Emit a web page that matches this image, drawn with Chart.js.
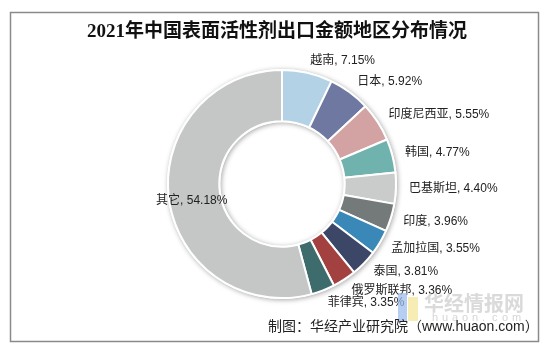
<!DOCTYPE html>
<html>
<head>
<meta charset="utf-8">
<script src="https://cdn.jsdelivr.net/npm/chart.js@4.4.1/dist/chart.umd.min.js"></script>
<style>
  html, body { margin: 0; padding: 0; background: #fff; }
  #wrap { width: 556px; height: 354px; position: relative; }
</style>
</head>
<body>
<div id="wrap"><canvas id="c" width="556" height="354"></canvas></div>
<script>
const titleText = '2021年中国表面活性剂出口金额地区分布情况';
const sourceText = '制图：华经产业研究院（www.huaon.com）';
const categories = ['越南', '日本', '印度尼西亚', '韩国', '巴基斯坦', '印度', '孟加拉国', '泰国', '俄罗斯联邦', '菲律宾', '其它'];
const shares = [7.15, 5.92, 5.55, 4.77, 4.40, 3.96, 3.55, 3.81, 3.36, 3.35, 54.18];
const sliceColors = ['#b3d2e5', '#6e78a0', '#d3a2a2', '#70b2ae', '#c9cccb', '#737a79', '#3a88b8', '#3c4666', '#a24140', '#3e6b6c', '#c4c7c6'];

const labelFont = '12px "Liberation Sans", "Noto Sans CJK SC", sans-serif';

const framePlugin = {
  id: 'frame',
  beforeDraw(chart) {
    const ctx = chart.ctx;
    ctx.save();
    ctx.fillStyle = '#ffffff';
    ctx.fillRect(0, 0, chart.width, chart.height);
    ctx.strokeStyle = '#8a8a8a';
    ctx.lineWidth = 1.5;
    ctx.strokeRect(10.5, 12.5, 528, 329);
    // title
    ctx.fillStyle = '#111111';
    ctx.font = 'bold 19px "Liberation Serif", "Noto Sans CJK SC", serif';
    ctx.textAlign = 'center';
    ctx.textBaseline = 'middle';
    ctx.fillText(titleText, 277, 32);
    ctx.restore();
  }
};

const shadowPlugin = {
  id: 'ringShadow',
  beforeDatasetsDraw(chart) {
    const arc = chart.getDatasetMeta(0).data[0];
    if (!arc) return;
    const p = arc.getProps(['x', 'y', 'outerRadius', 'innerRadius'], true);
    const ctx = chart.ctx;
    ctx.save();
    ctx.shadowColor = 'rgba(0,0,0,0.35)';
    ctx.shadowBlur = 5;
    ctx.shadowOffsetX = 1;
    ctx.shadowOffsetY = 1;
    ctx.fillStyle = '#ffffff';
    ctx.beginPath();
    ctx.arc(p.x, p.y, p.outerRadius + 1, 0, Math.PI * 2, false);
    ctx.arc(p.x, p.y, p.innerRadius - 1, 0, Math.PI * 2, true);
    ctx.closePath();
    ctx.fill();
    ctx.restore();
  }
};

const labelPlugin = {
  id: 'sliceLabels',
  afterDatasetsDraw(chart) {
    const ctx = chart.ctx;
    const meta = chart.getDatasetMeta(0);
    ctx.save();
    ctx.font = labelFont;
    ctx.fillStyle = '#222222';
    ctx.textAlign = 'left';
    ctx.textBaseline = 'middle';
    meta.data.forEach((arc, i) => {
      const p = arc.getProps(['x', 'y', 'startAngle', 'endAngle', 'outerRadius'], true);
      const mid = (p.startAngle + p.endAngle) / 2;
      const r = p.outerRadius + 13;
      const px = p.x + Math.cos(mid) * r;
      const py = p.y + Math.sin(mid) * r;
      ctx.fillText(categories[i] + ', ' + shares[i].toFixed(2) + '%', px, py);
    });
    ctx.restore();
  },
  afterDraw(chart) {
    const ctx = chart.ctx;
    ctx.save();
    // watermark
    ctx.fillStyle = 'rgba(150,185,235,0.7)';
    ctx.fillRect(398, 293, 9, 29);
    ctx.fillStyle = 'rgba(245,228,150,0.7)';
    ctx.fillRect(408, 297, 10, 24);
    ctx.fillStyle = 'rgba(205,205,205,0.75)';
    ctx.font = 'bold 20px "Noto Sans CJK SC", sans-serif';
    ctx.textAlign = 'left';
    ctx.textBaseline = 'middle';
    ctx.fillText('华经情报网', 424, 303);
    ctx.font = '11px "Liberation Sans", sans-serif';
    ctx.fillStyle = 'rgba(210,210,210,0.9)';
    const wm = 'huaon.com';
    for (let k = 0; k < wm.length; k++) ctx.fillText(wm[k], 432 + k * 10, 318);
    // source
    ctx.fillStyle = '#222222';
    ctx.font = '14px "Liberation Sans", "Noto Sans CJK SC", sans-serif';
    ctx.fillText(sourceText, 268, 327);
    ctx.restore();
  }
};

new Chart(document.getElementById('c'), {
  type: 'doughnut',
  data: {
    labels: categories,
    datasets: [{
      data: shares,
      backgroundColor: sliceColors,
      borderColor: '#ffffff',
      borderWidth: 2,
      hoverOffset: 0
    }]
  },
  options: {
    responsive: false,
    animation: false,
    cutout: '55%',
    radius: 114,
    rotation: 0,
    layout: { padding: { left: 168, right: 160, top: 70, bottom: 56 } },
    plugins: {
      legend: { display: false },
      tooltip: { enabled: false },
      title: { display: false }
    }
  },
  plugins: [framePlugin, shadowPlugin, labelPlugin]
});
</script>
</body>
</html>
